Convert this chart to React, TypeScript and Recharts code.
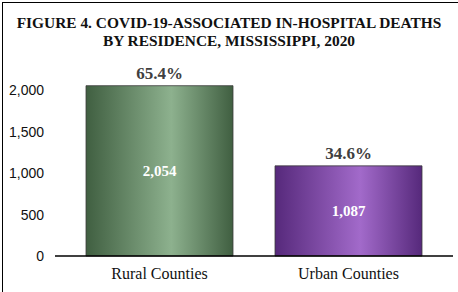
import { BarChart, Bar, XAxis, YAxis, Cell, LabelList } from "recharts"

const categories = ["Rural Counties", "Urban Counties"]
const deaths = [2054, 1087]
const shares = ["65.4%", "34.6%"]
const yTicks = [0, 500, 1000, 1500, 2000]

const data = categories.map((name, i) => ({
  name,
  deaths: deaths[i],
  share: shares[i],
}))

const gradients = ["ruralFill", "urbanFill"]

const serif = "'Liberation Serif', 'Times New Roman', serif"
const sans = "'Liberation Sans', Arial, sans-serif"

export default function App() {
  return (
    <div
      style={{
        position: "absolute",
        left: 0,
        top: 0,
        width: 458,
        height: 292,
        overflow: "hidden",
        background: "#fff",
      }}
    >
      {/* frame, right and bottom edges fall outside the crop */}
      <div
        style={{
          position: "absolute",
          left: 2,
          top: 2,
          width: 520,
          height: 360,
          border: "1.5px solid #000",
        }}
      />
      <div
        style={{
          position: "absolute",
          left: 0,
          top: 14,
          width: 458,
          textAlign: "center",
          fontFamily: serif,
          fontWeight: "bold",
          fontSize: 15.4,
          lineHeight: "18px",
          color: "#111",
        }}
      >
        FIGURE 4. COVID-19-ASSOCIATED IN-HOSPITAL DEATHS
        <br />
        BY RESIDENCE, MISSISSIPPI, 2020
      </div>
      <BarChart
        width={458}
        height={292}
        data={data}
        margin={{ top: 57, right: 5, bottom: 0, left: 0 }}
        style={{ position: "absolute", left: 0, top: 0 }}
      >
        <defs>
          <linearGradient id="ruralFill" x1="0" y1="0" x2="1" y2="0">
            <stop offset="0%" stopColor="#405f41" />
            <stop offset="58%" stopColor="#8db18e" />
            <stop offset="100%" stopColor="#405f41" />
          </linearGradient>
          <linearGradient id="urbanFill" x1="0" y1="0" x2="1" y2="0">
            <stop offset="0%" stopColor="#56297b" />
            <stop offset="58%" stopColor="#a26aca" />
            <stop offset="100%" stopColor="#56297b" />
          </linearGradient>
        </defs>
        <XAxis
          dataKey="name"
          height={36}
          padding={{ left: 10, right: 10 }}
          tickLine={false}
          axisLine={{ stroke: "#000", strokeWidth: 1.5 }}
          tickMargin={6}
          tick={{ fill: "#111", fontFamily: serif, fontSize: 16 }}
        />
        <YAxis
          width={55}
          domain={[0, 2400]}
          ticks={yTicks}
          axisLine={false}
          tickLine={false}
          tickSize={0}
          tickMargin={11}
          tickFormatter={(v: number) => v.toLocaleString("en-US")}
          tick={{ fill: "#111", fontFamily: sans, fontSize: 14 }}
        />
        <Bar dataKey="deaths" barSize={147} stroke="#3a3a3a" strokeWidth={0.8} isAnimationActive={false}>
          {data.map((entry, i) => (
            <Cell key={entry.name} fill={`url(#${gradients[i]})`} />
          ))}
          <LabelList
            dataKey="share"
            position="top"
            offset={7}
            fill="#404040"
            fontFamily={serif}
            fontWeight="bold"
            fontSize={17}
          />
          <LabelList
            dataKey="deaths"
            position="center"
            formatter={(v: number) => v.toLocaleString("en-US")}
            fill="#fff"
            fontFamily={serif}
            fontWeight="bold"
            fontSize={15}
          />
        </Bar>
      </BarChart>
    </div>
  )
}
